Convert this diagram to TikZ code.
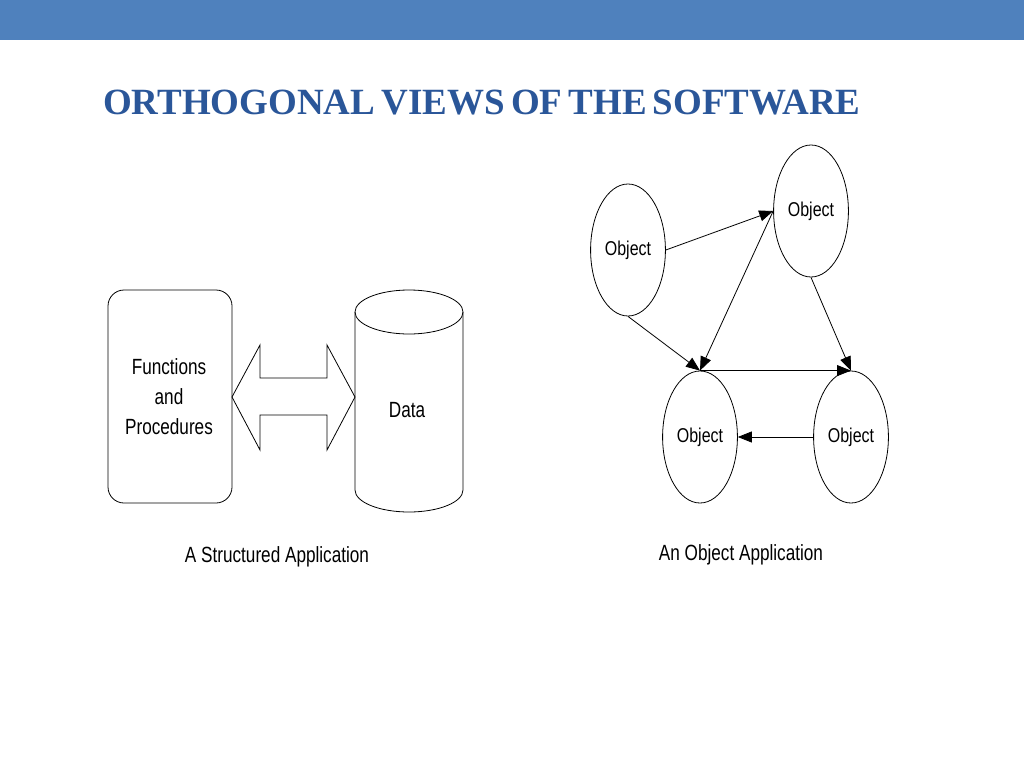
\documentclass[tikz,border=0pt]{standalone}
\usepackage{fontspec}
\setmainfont{Liberation Serif}
\newfontfamily\diag{Liberation Sans}
\usetikzlibrary{arrows.meta,shapes.geometric}
\definecolor{barblue}{HTML}{4F81BD}
\definecolor{titleblue}{HTML}{2A5699}
\tikzset{
 obj/.style={draw,thick,ellipse,minimum width=68pt,minimum height=132pt,font=\diag\fontsize{20}{22}\selectfont,xscale=1},
 lbl/.style={font=\diag\fontsize{22}{26}\selectfont,xscale=0.78},
 arr/.style={thick,-{Triangle[length=14pt,width=11pt]}},
}
\begin{document}
\begin{tikzpicture}[x=1pt,y=-1pt]
\useasboundingbox (0,0) rectangle (1024,768);
\fill[barblue] (0,0) rectangle (1024,40);
\node[font=\bfseries\fontsize{37}{40}\selectfont,text=titleblue,anchor=west,inner sep=0] (title) at (103,103) {ORTHOGONAL\,VIEWS\,OF\,THE\,SOFTWARE};
% left
\draw[thick,rounded corners=16pt] (108,290) rectangle (232,503);
\node[lbl,align=center] (fp) at (169,397) {Functions\\[4pt]and\\[4pt]Procedures};
\draw[thick] (232,397) -- (260,345) -- (260,378) -- (327,378) -- (327,345) -- (355,397) -- (327,450) -- (327,415) -- (260,415) -- (260,450) -- cycle;
\draw[thick] (355,312) -- (355,490) arc[start angle=180,end angle=360,x radius=54,y radius=-22] -- (463,312);
\draw[thick] (409,312) ellipse[x radius=54,y radius=22];
\node[lbl] (data) at (407,410) {Data};
\node[lbl] (cap1) at (277,557) {A Structured Application};
% right
\node[obj] (o1) at (628,250) {\scalebox{0.8}[1]{Object}};
\node[obj] (o2) at (811,211) {\scalebox{0.8}[1]{Object}};
\node[obj,minimum width=66pt] (o3) at (700,437) {\scalebox{0.8}[1]{Object}};
\node[obj] (o4) at (851,437) {\scalebox{0.8}[1]{Object}};
\draw[arr] (o1.east) -- (o2.west);
\draw[arr] (o2.west) -- (o3.north);
\draw[arr] (o1.south) -- (o3.north);
\draw[arr] (o2.south) -- (o4.north);
\draw[arr] (o3.north) -- (o4.north);
\draw[arr] (o4.west) -- (o3.east);
\node[lbl] (cap2) at (741,555) {An Object Application};
\end{tikzpicture}
\end{document}
